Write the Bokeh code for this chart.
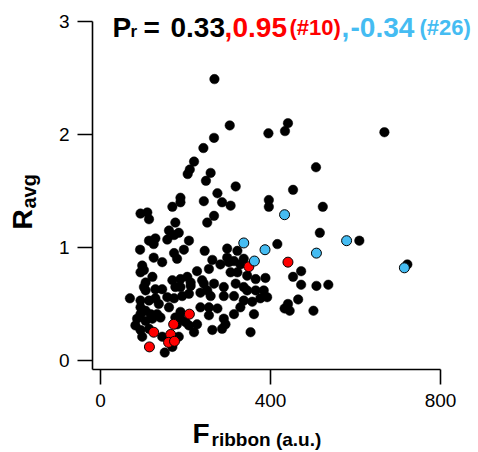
import math
from bokeh.plotting import figure
from bokeh.models import Range1d, FixedTicker, Label
from bokeh.embed import file_html
from bokeh.resources import INLINE

# ---------------- data ----------------
black_F = [268, 304, 395, 434, 441, 267, 242, 220, 210, 205, 259, 248, 318, 275, 188,
           668, 507, 453, 523, 516, 609, 472, 453, 472, 508, 536, 465, 441, 433, 445, 501, 722,
           169, 188, 243, 286, 306, 396, 396, 94, 110, 114, 267, 251, 176, 161, 184, 173,
           114, 129, 125, 157, 208, 416, 93, 196, 245, 298, 322, 298, 173, 180, 125, 145,
           263, 282, 302, 314, 329, 337, 98, 102, 94, 122, 106, 102, 106, 255, 227, 322,
           306, 345, 365, 388, 169, 188, 204, 212, 239, 243, 129, 145, 176, 188, 212, 267,
           290, 318, 337, 345, 365, 384, 157, 173, 192, 208, 235, 251, 259, 290, 314, 337,
           357, 376, 392, 69, 94, 114, 129, 137, 94, 106, 161, 235, 255, 275, 329, 361,
           314, 94, 118, 133, 141, 188, 86, 106, 82, 122, 114, 94, 98, 176, 188, 180,
           200, 208, 227, 255, 290, 294, 220, 263, 286, 353, 145, 184, 151, 169]
black_R = [2.49, 2.08, 2.01, 2.03, 2.10, 1.97, 1.88, 1.76, 1.69, 1.65, 1.66, 1.59, 1.54, 1.48, 1.44,
           2.02, 1.71, 1.51, 1.36, 1.13, 1.06, 0.79, 0.74, 0.67, 0.66, 0.67, 0.54, 0.50, 0.46, 0.44, 0.44, 0.85,
           1.36, 1.40, 1.41, 1.40, 1.37, 1.36, 1.42, 1.30, 1.31, 1.25, 1.28, 1.22, 1.22, 1.15, 1.13, 1.11,
           1.06, 1.08, 1.03, 1.07, 1.06, 1.03, 0.98, 0.98, 0.97, 0.99, 0.97, 0.91, 0.95, 0.90, 0.91, 0.87,
           0.89, 0.85, 0.87, 0.88, 0.85, 0.90, 0.84, 0.80, 0.78, 0.74, 0.69, 0.65, 0.62, 0.81, 0.79, 0.78,
           0.78, 0.75, 0.72, 0.73, 0.71, 0.72, 0.74, 0.69, 0.71, 0.68, 0.63, 0.63, 0.65, 0.65, 0.66, 0.68,
           0.65, 0.68, 0.65, 0.62, 0.62, 0.62, 0.56, 0.55, 0.57, 0.59, 0.60, 0.62, 0.57, 0.57, 0.57, 0.53,
           0.52, 0.55, 0.56, 0.55, 0.53, 0.53, 0.55, 0.50, 0.47, 0.44, 0.47, 0.47, 0.47, 0.46, 0.47, 0.41,
           0.41, 0.41, 0.41, 0.41, 0.38, 0.43, 0.37, 0.35, 0.31, 0.37, 0.28, 0.27, 0.21, 0.38, 0.37, 0.32,
           0.34, 0.31, 0.32, 0.40, 0.37, 0.32, 0.25, 0.27, 0.28, 0.25, 0.21, 0.21, 0.07, 0.12]

red_F = [209, 172, 125, 165, 160, 174, 115, 349, 441]
red_R = [0.41, 0.32, 0.25, 0.23, 0.16, 0.17, 0.12, 0.83, 0.87]

blue_F = [337, 387, 362, 433, 579, 508, 715]
blue_R = [1.04, 0.98, 0.88, 1.29, 1.06, 0.95, 0.82]

x_ticks = [0, 400, 800]
y_ticks = [0, 1, 2, 3]
x_bounds = (-19, 800)
y_bounds = (-0.08, 3.0)

RED = "#FF0000"
BLUE = "#45BCF2"
title_parts = [("P", "black", "big"), ("r", "black", "sub"), ("=", "black", "big"),
               ("0.33", "black", "big"), (",", RED, "big"), ("0.95", RED, "big"),
               ("(#10)", RED, "small"), (",", BLUE, "big"), ("-0.34", BLUE, "big"),
               ("(#26)", BLUE, "small")]

# ---------------- layout ----------------
W, H = 478, 452
FL, FR, FT, FB = 92, 440, 21, 369
X0, X1 = x_bounds
Y0, Y1 = y_bounds
sx = (FR - FL) / (X1 - X0)
sy = (FB - FT) / (Y1 - Y0)

def dx(px):
    return X0 + (px - FL) / sx

def dy(py):
    return Y0 + (FB - py) / sy

FONT = "Liberation Sans"
SHIFT = 10  # empirical label baseline correction (px)

p = figure(width=W, height=H, output_backend="svg", toolbar_location=None,
           x_range=Range1d(dx(0), dx(W)), y_range=Range1d(dy(H), dy(0)),
           min_border=0, min_border_left=0, min_border_right=0,
           min_border_top=0, min_border_bottom=0)
p.outline_line_color = None
p.grid.visible = False
p.background_fill_color = "white"
p.border_fill_color = "white"

for ax in (p.xaxis[0], p.yaxis[0]):
    ax.axis_line_width = 1.6
    ax.axis_line_color = "black"
    ax.major_tick_line_width = 1.6
    ax.major_tick_line_color = "black"
    ax.major_tick_out = 15
    ax.major_tick_in = 0
    ax.minor_tick_line_color = None
    ax.major_label_text_font = FONT
    ax.major_label_text_font_size = "19px"
    ax.major_label_text_color = "black"
p.xaxis[0].ticker = FixedTicker(ticks=x_ticks)
p.yaxis[0].ticker = FixedTicker(ticks=y_ticks)
p.xaxis[0].bounds = x_bounds
p.yaxis[0].bounds = y_bounds
p.xaxis[0].fixed_location = Y0
p.yaxis[0].fixed_location = X0
p.xaxis[0].major_label_standoff = 9
p.yaxis[0].major_label_standoff = 8

p.scatter(black_F, black_R, size=9.5, fill_color="black", line_color="black", line_width=0.5)
p.scatter(red_F, red_R, size=10, fill_color=RED, line_color="black", line_width=1)
p.scatter(blue_F, blue_R, size=10, fill_color=BLUE, line_color="black", line_width=1)

def hlabel(txt, px, base, size, color="black"):
    p.add_layout(Label(x=dx(px), y=dy(base - SHIFT), text=txt, text_color=color,
                       text_font=FONT, text_font_style="bold", text_font_size=size,
                       text_align="left", text_baseline="alphabetic"))

def vlabel(txt, base_x, py, size, color="black"):
    p.add_layout(Label(x=dx(base_x - SHIFT), y=dy(py), text=txt, text_color=color,
                       angle=math.pi / 2, text_font=FONT, text_font_style="bold",
                       text_font_size=size, text_align="left", text_baseline="alphabetic"))

# title pieces
title_x = [112, 130, 143, 170, 224, 232, 289, 341, 350, 419]
sizes = {"big": "28px", "sub": "17px", "small": "22px"}
for (txt, col, kind), px in zip(title_parts, title_x):
    base = 41 if kind == "sub" else 37
    hlabel(txt, px, base, sizes[kind], col)

# x axis label
hlabel("F", 192, 443, "28px")
hlabel("ribbon (a.u.)", 211, 449, "19px")

# y axis label (rotated)
vlabel("R", 32, 229, "28px")
vlabel("avg", 38, 208, "20px")

open("out.html", "w").write(file_html(p, INLINE))
